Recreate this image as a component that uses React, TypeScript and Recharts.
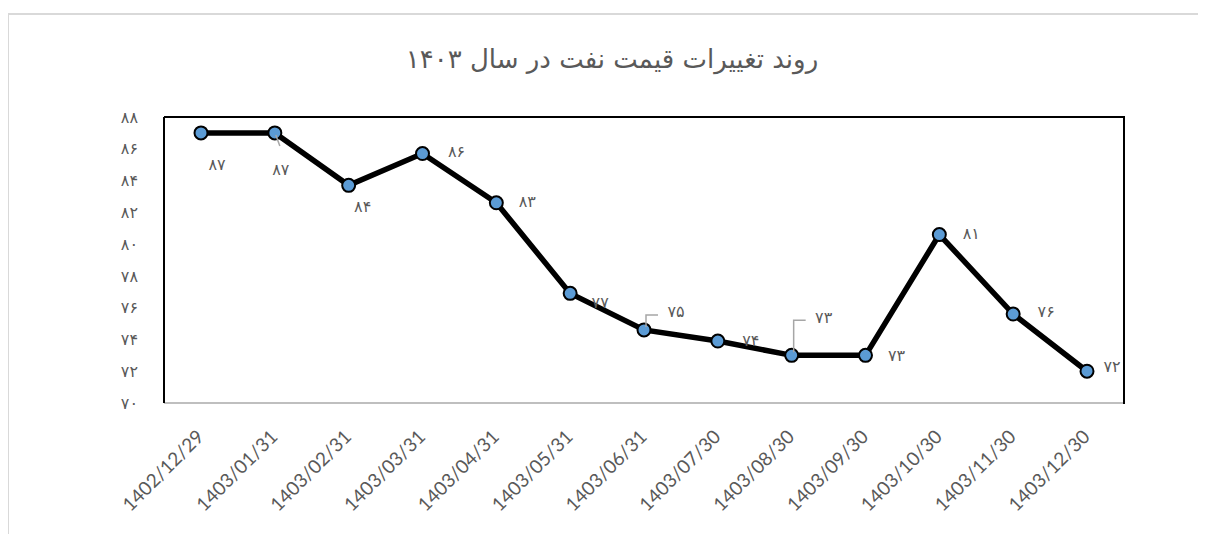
import React from "react";
import {
  LineChart,
  Line,
  XAxis,
  YAxis,
  LabelList,
} from "recharts";

const DATES = [
  "1402/12/29",
  "1403/01/31",
  "1403/02/31",
  "1403/03/31",
  "1403/04/31",
  "1403/05/31",
  "1403/06/31",
  "1403/07/30",
  "1403/08/30",
  "1403/09/30",
  "1403/10/30",
  "1403/11/30",
  "1403/12/30",
];

const PRICES = [87.0, 87.0, 83.7, 85.7, 82.6, 76.9, 74.6, 73.9, 73.0, 73.0, 80.6, 75.6, 72.0];

const Y_TICKS = [70, 72, 74, 76, 78, 80, 82, 84, 86, 88];

const TITLE = "روند تغییرات قیمت نفت در سال ۱۴۰۳";

// placement of each value label relative to its point, as Excel left them
const LABEL_OFFSETS: [number, number][] = [
  [16, 32], [6, 37], [14, 21], [34, -2], [31, -1], [30, 9], [32, -18],
  [33, -1], [32, -38], [31, 0], [32, -1], [33, -3], [25, -5],
];
// indices where a leader line joins label and point
const LEADERS: Record<number, "slant" | "elbow"> = { 1: "slant", 6: "elbow", 8: "elbow" };

const GRAY = "#595959";
const FA_DIGITS = "۰۱۲۳۴۵۶۷۸۹";
const toFa = (n: number) => String(n).replace(/\d/g, (d) => FA_DIGITS[+d]);

const data = DATES.map((d, i) => ({ date: d, price: PRICES[i] }));

function ValueLabel(props: any) {
  const { x, y, value, index } = props;
  const [dx, dy] = LABEL_OFFSETS[index] ?? [20, 0];
  const kind = LEADERS[index];
  return (
    <g>
      {kind === "slant" && (
        <line x1={x + 1} y1={y + 2} x2={x + 5} y2={y + 13} stroke="#a6a6a6" strokeWidth={1.5} />
      )}
      {kind === "elbow" && (
        <polyline
          points={`${x + 2},${y - 3} ${x + 2},${y + dy + 3} ${x + 14},${y + dy + 3}`}
          fill="none"
          stroke="#a6a6a6"
          strokeWidth={1.5}
        />
      )}
      <text
        x={x + dx}
        y={y + dy}
        textAnchor="middle"
        dominantBaseline="central"
        fontSize={16}
        fill={GRAY}
        fontFamily="DejaVu Sans"
      >
        {toFa(Math.round(value))}
      </text>
    </g>
  );
}

function DateTick(props: any) {
  const { x, y, payload } = props;
  return (
    <g transform={`translate(${x + 4},${y + 29})`}>
      <text
        x={0}
        y={0}
        textAnchor="end"
        transform="rotate(-45)"
        fontSize={19}
        fontFamily="Lato"
        fill={GRAY}
      >
        {payload.value}
      </text>
    </g>
  );
}

export default function App() {
  return (
    <div
      style={{
        position: "relative",
        marginTop: 5,
        marginLeft: -1,
        width: 1199,
        height: 521,
        borderTop: "2px solid #d9d9d9",
        borderLeft: "2px solid #d9d9d9",
      }}
    >
      <div
        style={{
          position: "absolute",
          left: 0,
          top: 29,
          width: 1206,
          textAlign: "center",
          direction: "rtl",
          fontFamily: "DejaVu Sans",
          fontSize: 26,
          color: GRAY,
        }}
      >
        {TITLE}
      </div>
      <LineChart
        width={1197}
        height={519}
        data={data}
        margin={{ top: 102, right: 82, bottom: 0, left: 0 }}
      >
        <XAxis
          dataKey="date"
          padding={{ left: 37, right: 37 }}
          interval={0}
          height={131}
          tickLine={false}
          axisLine={{ stroke: "#bfbfbf", strokeWidth: 2 }}
          tick={<DateTick />}
          tickMargin={0}
        />
        <YAxis
          domain={[70, 88]}
          ticks={Y_TICKS}
          interval={0}
          width={155}
          tickLine={false}
          axisLine={{ stroke: "#000", strokeWidth: 2 }}
          tickFormatter={(v: number) => toFa(v)}
          tick={{ fill: GRAY, fontSize: 16, fontFamily: "DejaVu Sans" }}
          tickMargin={20}
        />
        <Line
          dataKey="price"
          stroke="#000"
          strokeWidth={5.5}
          dot={{ r: 6.5, fill: "#5b9bd5", stroke: "#000", strokeWidth: 2 }}
          isAnimationActive={false}
        >
          <LabelList dataKey="price" content={ValueLabel} />
        </Line>
      </LineChart>
      {/* top and right edges of the plot frame */}
      <div
        style={{
          position: "absolute",
          left: 155,
          top: 101,
          width: 959,
          height: 286,
          borderTop: "2px solid #000",
          borderRight: "2px solid #000",
          pointerEvents: "none",
        }}
      />
    </div>
  );
}
